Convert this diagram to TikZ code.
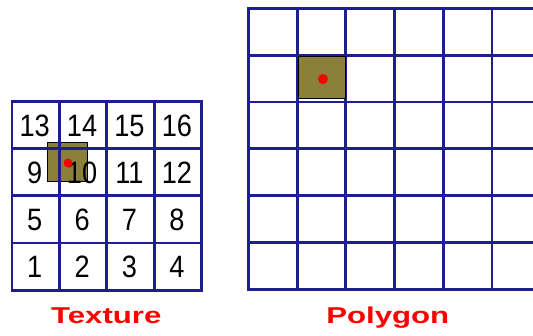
\documentclass[tikz,border=0pt]{standalone}
\usepackage{fontspec}
\setmainfont{Liberation Sans}
\definecolor{gridblue}{RGB}{30,30,145}
\definecolor{olivebox}{RGB}{138,128,60}
\definecolor{dotred}{RGB}{255,0,0}
\begin{document}
\begin{tikzpicture}[x=1bp,y=-1bp,
  gridline/.style={draw=gridblue,line width=2.9bp,line cap=rect},
  patch/.style={fill=olivebox,draw=black,line width=1bp},
  sample/.style={circle,fill=dotred,inner sep=0pt,minimum size=9bp},
  num/.style={inner sep=0pt,font=\fontsize{31}{31}\selectfont},
  caption/.style={inner sep=0pt,anchor=base,text=dotred,font=\fontsize{23}{24}\selectfont\bfseries}]
\useasboundingbox (0,0) rectangle (533,335);
\fill[white] (0,0) rectangle (533,335);
% ---- texture ----
\path[patch] (47.3,142.3) rectangle (87.7,181);
\foreach \i in {0,...,4} {
  \draw[gridline] ({12+47.4*\i},101.7) -- ({12+47.4*\i},290);
  \draw[gridline] (12,{101.7+47.1*\i}) -- (201.6,{101.7+47.1*\i});
}
\foreach \n [count=\k from 0] in {13,14,15,16,9,10,11,12,5,6,7,8,1,2,3,4} {
  \pgfmathtruncatemacro{\c}{mod(\k,4)}
  \pgfmathtruncatemacro{\r}{div(\k,4)}
  \node[num] (t\n) at ({12+47.4*(\c+0.5)-1},{101.7+47.1*(\r+0.5)+0.5}) {\scalebox{0.88}[1]{\n}};
}
\node[sample] (tdot) at (68,163) {};
\node[caption] (texture) at (106.3,323) {\scalebox{1.36}[1]{Texture}};
% ---- polygon ----
\foreach \i in {0,...,5} {
  \draw[gridline] ({248.5+48.7*\i},8.3) -- ({248.5+48.7*\i},289.5);
}
\foreach \j in {0,...,6} {
  \draw[gridline] (248.5,{8.3+46.86*\j}) -- (540,{8.3+46.86*\j});
}
\path[patch,line width=1.3bp] (298.6,56.4) rectangle (345.8,98.8);
\node[sample,minimum size=10bp] (pdot) at (323,79) {};
\node[caption] (polygon) at (387.8,323) {\scalebox{1.36}[1]{Polygon}};
\end{tikzpicture}
\end{document}
